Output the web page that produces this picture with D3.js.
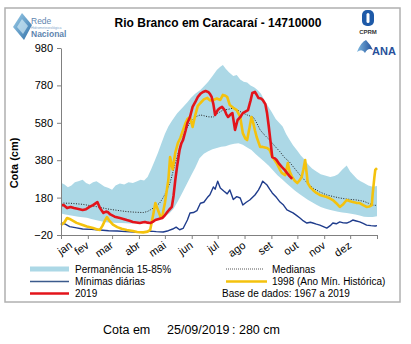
<!DOCTYPE html>
<html><head><meta charset="utf-8">
<script src="https://cdn.jsdelivr.net/npm/d3@7"></script>
<style>body{margin:0;background:#fff}svg{display:block;font-family:"Liberation Sans",Arial,sans-serif}</style>
</head><body><svg id="c" width="411" height="344"></svg>
<script>
const monthStarts=[0,31,59,90,120,151,181,212,243,273,304,334];
const monthLabels=["jan","fev","mar","abr","mai","jun","jul","ago","set","out","nov","dez"];
const yTicks=[-20,180,380,580,780,980];
const p85=[[0,260],[4,250],[8,235],[12,245],[16,262],[20,268],[25,275],[29,258],[33,250],[37,262],[41,268],[45,255],[50,240],[55,232],[59,222],[63,245],[68,255],[73,250],[78,262],[83,258],[88,268],[92,275],[96,272],[100,290],[104,330],[108,375],[112,420],[116,470],[120,520],[124,560],[128,590],[134,630],[141,665],[146,690],[150,712],[155,735],[161,755],[166,780],[170,800],[175,830],[180,862],[184,880],[187,889],[190,870],[194,850],[199,830],[203,835],[207,812],[211,800],[215,795],[219,780],[223,770],[227,755],[231,735],[235,700],[239,670],[243,640],[248,600],[252,580],[256,560],[260,520],[264,490],[268,460],[273,430],[277,405],[281,385],[286,355],[290,335],[295,320],[300,305],[305,298],[311,290],[316,295],[320,305],[325,330],[330,352],[334,320],[338,300],[342,280],[346,268],[350,258],[355,245],[360,238],[365,242]];
const p15=[[0,95],[5,90],[10,85],[15,82],[20,78],[25,75],[30,72],[35,66],[40,60],[45,55],[50,50],[55,47],[60,45],[65,44],[70,44],[75,43],[80,42],[85,43],[90,45],[95,47],[100,50],[105,55],[110,62],[115,70],[120,80],[125,95],[130,120],[135,160],[140,205],[145,250],[150,295],[155,340],[160,390],[165,415],[170,428],[175,438],[180,445],[185,452],[190,455],[195,462],[200,468],[205,470],[210,462],[215,448],[220,435],[225,412],[230,392],[235,372],[240,350],[245,325],[250,300],[255,280],[260,258],[265,238],[270,218],[275,200],[280,185],[285,168],[290,155],[295,142],[300,130],[305,122],[310,115],[315,110],[320,105],[325,100],[330,97],[335,93],[340,89],[345,84],[350,78],[355,76],[360,76],[365,80]];
const medianas=[[0,152],[5,150],[10,150],[15,148],[20,146],[25,144],[30,140],[37,135],[45,128],[53,120],[60,115],[68,110],[76,105],[85,102],[95,100],[100,106],[103,114],[108,128],[114,151],[118,180],[122,215],[126,260],[129,312],[133,380],[137,445],[141,504],[145,550],[149,579],[153,600],[157,615],[161,622],[165,618],[170,612],[176,611],[181,630],[187,648],[193,652],[199,659],[204,648],[210,632],[216,620],[222,611],[226,580],[230,542],[235,515],[241,488],[247,455],[253,425],[258,395],[264,370],[270,335],[276,301],[283,265],[291,231],[299,210],[307,194],[315,185],[322,178],[330,172],[342,167],[350,160],[355,150],[360,140],[365,138]];
const minimas=[[0,44],[5,38],[10,25],[18,18],[25,12],[35,10],[45,7],[55,3],[65,1],[75,-2],[85,-4],[95,-4],[103,1],[110,-2],[118,-4],[124,3],[129,12],[133,22],[137,8],[141,15],[146,60],[149,98],[153,100],[157,110],[161,150],[165,155],[169,180],[172,195],[176,237],[178,225],[181,268],[184,231],[188,215],[192,200],[195,221],[199,170],[203,185],[207,178],[210,140],[214,155],[218,167],[224,194],[228,220],[230,237],[233,268],[236,255],[238,247],[241,225],[244,205],[249,180],[253,156],[257,140],[261,114],[265,105],[268,98],[272,85],[276,71],[280,55],[284,44],[288,48],[291,44],[295,38],[299,33],[303,25],[307,17],[311,30],[314,44],[318,40],[322,50],[326,45],[330,44],[334,52],[337,60],[341,55],[345,50],[349,42],[353,33],[358,30],[363,28],[365,30]];
const y1998=[[0,33],[4,48],[7,71],[10,66],[14,56],[18,45],[25,33],[30,25],[37,17],[42,10],[45,7],[48,30],[51,60],[53,76],[56,55],[60,35],[65,22],[70,13],[76,7],[83,1],[88,-4],[95,-6],[100,-2],[103,7],[106,76],[109,151],[112,114],[115,76],[117,80],[120,151],[124,274],[126,397],[129,330],[132,420],[135,472],[138,500],[141,542],[144,580],[146,600],[149,611],[152,558],[155,620],[158,670],[161,686],[165,705],[169,713],[172,700],[176,702],[180,710],[184,702],[187,729],[190,725],[192,718],[195,675],[199,660],[203,648],[207,611],[210,525],[213,495],[215,488],[218,560],[220,611],[222,580],[224,540],[226,504],[230,451],[233,451],[238,445],[241,435],[244,400],[249,365],[253,328],[255,312],[259,300],[262,365],[264,320],[267,290],[270,270],[273,258],[276,275],[278,290],[280,330],[282,381],[284,300],[285,258],[288,235],[291,221],[295,205],[299,194],[303,188],[307,183],[311,175],[314,167],[318,150],[322,130],[326,145],[330,167],[334,160],[337,156],[341,152],[345,151],[349,140],[353,130],[356,132],[359,140],[360,200],[362,290],[363,328],[365,338]];
const y2019=[[0,140],[3,140],[7,124],[11,130],[15,124],[19,120],[25,114],[29,118],[33,130],[37,140],[42,156],[45,124],[49,98],[52,105],[54,103],[57,90],[62,78],[68,71],[72,66],[76,60],[80,55],[83,50],[87,47],[91,44],[95,48],[97,50],[100,46],[103,44],[106,50],[109,60],[113,66],[117,71],[120,85],[122,98],[125,115],[128,130],[130,190],[132,274],[134,344],[137,435],[139,470],[141,488],[144,540],[146,579],[149,611],[152,665],[155,690],[158,718],[161,735],[164,745],[167,750],[170,745],[172,735],[174,718],[176,680],[178,622],[181,648],[184,660],[186,665],[189,648],[191,625],[193,611],[196,625],[198,632],[201,542],[204,595],[207,610],[210,632],[213,640],[216,648],[219,700],[221,739],[224,745],[226,730],[228,713],[231,710],[233,702],[236,680],[238,632],[240,560],[242,480],[244,397],[247,390],[249,381],[252,360],[255,344],[258,330],[261,312],[264,295],[267,280]];
const legendItems=["Permanência 15-85%","Medianas","Mínimas diárias","1998 (Ano Mín. Histórica)","2019","Base de dados: 1967 a 2019"];
const titleText="Rio Branco em Caracaraí - 14710000";
const footer=["Cota em","25/09/2019",": 280 cm"];

const svg=d3.select("#c");
const x=d3.scaleLinear().domain([0,365]).range([61,377]);
const y=d3.scaleLinear().domain([-20,980]).range([235,48]);
const C={band:"#acd8e6",min:"#1f3c8c",y98:"#f4c20d",r19:"#e3141b"};

// frame
svg.append("rect").attr("x",5).attr("y",8).attr("width",395).attr("height",294).attr("fill","none").attr("stroke","#b0b0b0").attr("stroke-width",1.5);

// logos
const defs=svg.append("defs");
const g1=defs.append("linearGradient").attr("id","lg1").attr("x1",0).attr("y1",0).attr("x2",1).attr("y2",1);
g1.append("stop").attr("offset",0).attr("stop-color","#9fd0ea");
g1.append("stop").attr("offset",1).attr("stop-color","#2f6fa8");
svg.append("path").attr("d","M22,13 L32,25 L24,40 L13,27 Z").attr("fill","url(#lg1)");
svg.append("path").attr("d","M22,19 L28,26 L23,34 L17,27 Z").attr("fill","#cfe8f5").attr("opacity",0.7);
svg.append("text").attr("x",31).attr("y",24).attr("font-size",8.5).attr("fill","#5f86b0").text("Rede");
svg.append("text").attr("x",31).attr("y",29).attr("font-size",3.5).attr("fill","#7fa8cc").text("Hidrometeorológica");
svg.append("text").attr("x",31).attr("y",37).attr("font-size",8.5).attr("font-weight","bold").attr("fill","#5f86b0").text("Nacional");
svg.append("rect").attr("x",362).attr("y",10).attr("width",12).attr("height",16).attr("rx",5).attr("fill","#1e5aa8");
svg.append("rect").attr("x",366.5).attr("y",13).attr("width",3).attr("height",10).attr("rx",1.5).attr("fill","#fff");
svg.append("text").attr("x",368).attr("y",34).attr("text-anchor","middle").attr("font-size",6).attr("font-weight","bold").attr("fill","#333").text("CPRM");
const g2=defs.append("linearGradient").attr("id","lg2").attr("x1",0).attr("y1",0).attr("x2",1).attr("y2",0);
g2.append("stop").attr("offset",0).attr("stop-color","#7fb8e0");
g2.append("stop").attr("offset",1).attr("stop-color","#1f4e99");
svg.append("path").attr("d","M357,52 Q361,42 366,40 Q370,44 373,50 Q368,47 365,53 Q362,48 357,52 Z").attr("fill","url(#lg2)");
svg.append("text").attr("x",372).attr("y",55).attr("font-size",11).attr("font-weight","bold").attr("fill","#27509a").text("ANA");

// title
svg.append("text").attr("x",218).attr("y",27).attr("text-anchor","middle").attr("font-size",12).attr("font-weight","bold").text(titleText);

// band
const ln=d3.line();
const bandPts=p85.map(d=>[x(d[0]),y(d[1])]).concat(p15.slice().reverse().map(d=>[x(d[0]),y(d[1])]));
svg.append("path").attr("d",ln(bandPts)+"Z").attr("fill",C.band);

const line=d3.line().x(d=>x(d[0])).y(d=>y(d[1]));
svg.append("path").attr("d",line(medianas)).attr("fill","none").attr("stroke","#222").attr("stroke-width",1).attr("stroke-dasharray","1,1.5");
svg.append("path").attr("d",line(minimas)).attr("fill","none").attr("stroke",C.min).attr("stroke-width",1.4).attr("stroke-linejoin","round");
svg.append("path").attr("d",line(y1998)).attr("fill","none").attr("stroke",C.y98).attr("stroke-width",2.6).attr("stroke-linejoin","round");
svg.append("path").attr("d",line(y2019)).attr("fill","none").attr("stroke",C.r19).attr("stroke-width",2.6).attr("stroke-linejoin","round");

// axes
const ya=svg.append("g").attr("transform","translate(61,0)").call(d3.axisLeft(y).tickValues(yTicks).tickSize(4).tickPadding(4).tickSizeOuter(0));
ya.select(".domain").attr("stroke","#808080");
ya.selectAll(".tick line").attr("stroke","#808080");
ya.selectAll("text").attr("font-size",11).attr("font-family","Liberation Sans, Arial, sans-serif").attr("fill","#000");
const xa=svg.append("g").attr("transform","translate(0,235)").call(d3.axisBottom(x).tickValues(monthStarts.concat([365])).tickSize(4).tickFormat("").tickSizeOuter(0));
xa.select(".domain").attr("stroke","#808080");
xa.selectAll(".tick line").attr("stroke","#808080");
svg.append("g").selectAll("text").data(monthStarts).join("text")
 .attr("transform",(d,i)=>`translate(${Math.max(x(d)+2,73)},247) rotate(-35)`)
 .attr("text-anchor","end").attr("font-size",11).text((d,i)=>monthLabels[i]);

svg.append("text").attr("transform","translate(18,163) rotate(-90)").attr("text-anchor","middle").attr("font-size",11).attr("font-weight","bold").text("Cota (cm)");

// legend
const lg=svg.append("g").attr("font-size",10);
lg.append("line").attr("x1",30).attr("x2",69).attr("y1",269).attr("y2",269).attr("stroke",C.band).attr("stroke-width",5);
lg.append("line").attr("x1",30).attr("x2",69).attr("y1",281.5).attr("y2",281.5).attr("stroke","#3b5a8c").attr("stroke-width",1.5);
lg.append("line").attr("x1",30).attr("x2",69).attr("y1",293.5).attr("y2",293.5).attr("stroke",C.r19).attr("stroke-width",2.5);
lg.append("line").attr("x1",226).attr("x2",263).attr("y1",269).attr("y2",269).attr("stroke","#555").attr("stroke-width",1).attr("stroke-dasharray","1,1");
lg.append("line").attr("x1",226).attr("x2",267).attr("y1",281.5).attr("y2",281.5).attr("stroke",C.y98).attr("stroke-width",2.5);
const lt=[[75,272.5,0],[272,272.5,1],[75,285,2],[272,285,3],[75,297,4],[222,297,5]];
lt.forEach(t=>lg.append("text").attr("x",t[0]).attr("y",t[1]).text(legendItems[t[2]]));

// footer
const fx=[103,167,232];
footer.forEach((t,i)=>svg.append("text").attr("x",fx[i]).attr("y",334).attr("font-size",12.5).text(t));
</script></body></html>
